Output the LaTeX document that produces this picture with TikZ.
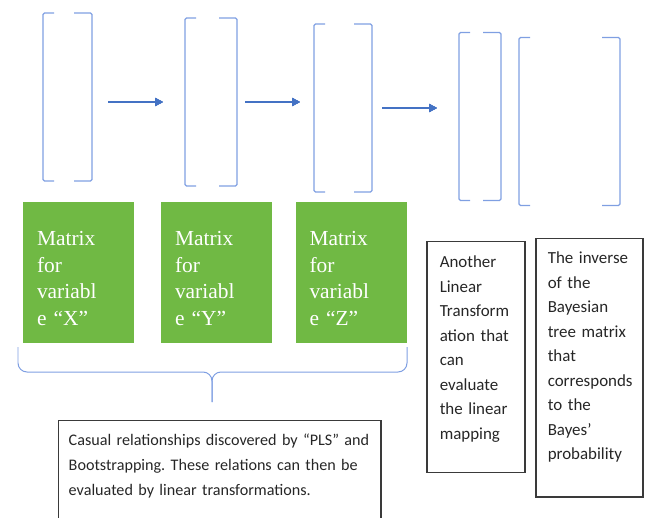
\documentclass[tikz,border=0pt]{standalone}
\usepackage{fontspec}
\setmainfont{Liberation Serif}
\newfontfamily\calibri{Carlito}
\usepackage{tikz}
\usetikzlibrary{
  positioning,
  arrows.meta}
\frenchspacing

\definecolor{bracketblue}{HTML}{7F9FE2}
\definecolor{arrowblue}{HTML}{4472C4}
\definecolor{boxgreen}{HTML}{70B944}
\definecolor{framegrey}{HTML}{3A3A3A}

\newcommand\drawmatrix[1]{%
  \draw[bracket] ([xshift=11bp]#1.north west) -- (#1.north west) -- (#1.south west) -- ([xshift=11bp]#1.south west);
  \draw[bracket] ([xshift=-18bp]#1.north east) -- (#1.north east) -- (#1.south east) -- ([xshift=-18bp]#1.south east);}

\begin{document}
\begin{tikzpicture}[x=1bp, y=-1bp,
  mat/.style={inner sep=0pt, outer sep=0pt, minimum height=168bp},
  bracket/.style={bracketblue, line width=1.1pt, rounded corners=1.5pt},
  flow/.style={arrowblue, line width=1.6pt, -{Triangle[length=8bp,width=8bp]}},
  greenbox/.style={fill=boxgreen, text=white, anchor=north, text width=83bp, inner xsep=14bp, inner ysep=0pt, align=left, font=\fontsize{21.5}{27}\selectfont},
  note/.style={draw=framegrey, line width=1.5pt, anchor=north west, inner ysep=0pt, align=left, text=black!85, font=\calibri\fontsize{17}{24.6}\selectfont}]
\useasboundingbox (0,0) rectangle (646,518);
% matrices
\foreach \n/\x/\y/\w in {m1/67.5/97/49, m2/211/102/52, m3/343/108/58, m4/480/116.5/42, m5/569.5/121.5/101}
  \node[mat, minimum width=\w bp] (\n) at (\x,\y) {};
\foreach \n in {m1,m2,m3,m4,m5}
  \drawmatrix{\n}
\foreach \a/\b/\c/\s/\e in {m1/m2/m2/16/22, m2/m3/m2/8/14, m3/m4/m3/10/22}
  \draw[flow, shorten <=\s bp, shorten >=\e bp] (\a.east |- \c) -- (\b.west |- \c);
% variables
\foreach \n/\x/\v in {g1/78.5/X, g2/216.5/Y, g3/351/Z}
  \node[greenbox] (\n) at (\x,202) {\rule{0pt}{43bp}Matrix\\for\\variabl\\e “\v”\rule[-17bp]{0pt}{17bp}};
\draw[bracket, line width=1pt, rounded corners=9bp] (18,347) |- (212,372) -- (212,402);
\draw[bracket, line width=1pt, rounded corners=9bp] (407,347) |- (212,372) -- (212,402);
\node[note, text width=306bp, inner xsep=8bp, font=\calibri\fontsize{16.2}{25}\selectfont] (pls) at (58,420)
  {\rule{0pt}{25bp}\hspace*{2bp}Casual relationships discovered by “PLS” and\\\hspace*{2bp}Bootstrapping. These relations can then be\\\hspace*{2bp}evaluated by linear transformations.\rule[-40bp]{0pt}{40bp}};
\node[note, text width=72bp, inner xsep=13bp] (lin) at (426,241)
  {\rule{0pt}{26bp}Another\\Linear\\Transform\\ation that\\can\\evaluate\\the linear\\mapping\rule[-33bp]{0pt}{33bp}};
\node[note, text width=83bp, inner xsep=12bp] (bayes) at (535,238)
  {\rule{0pt}{25bp}The inverse\\of the\\Bayesian\\tree matrix\\that\\corresponds\\to the\\Bayes’\\probability\rule[-37bp]{0pt}{37bp}};
\end{tikzpicture}
\end{document}
